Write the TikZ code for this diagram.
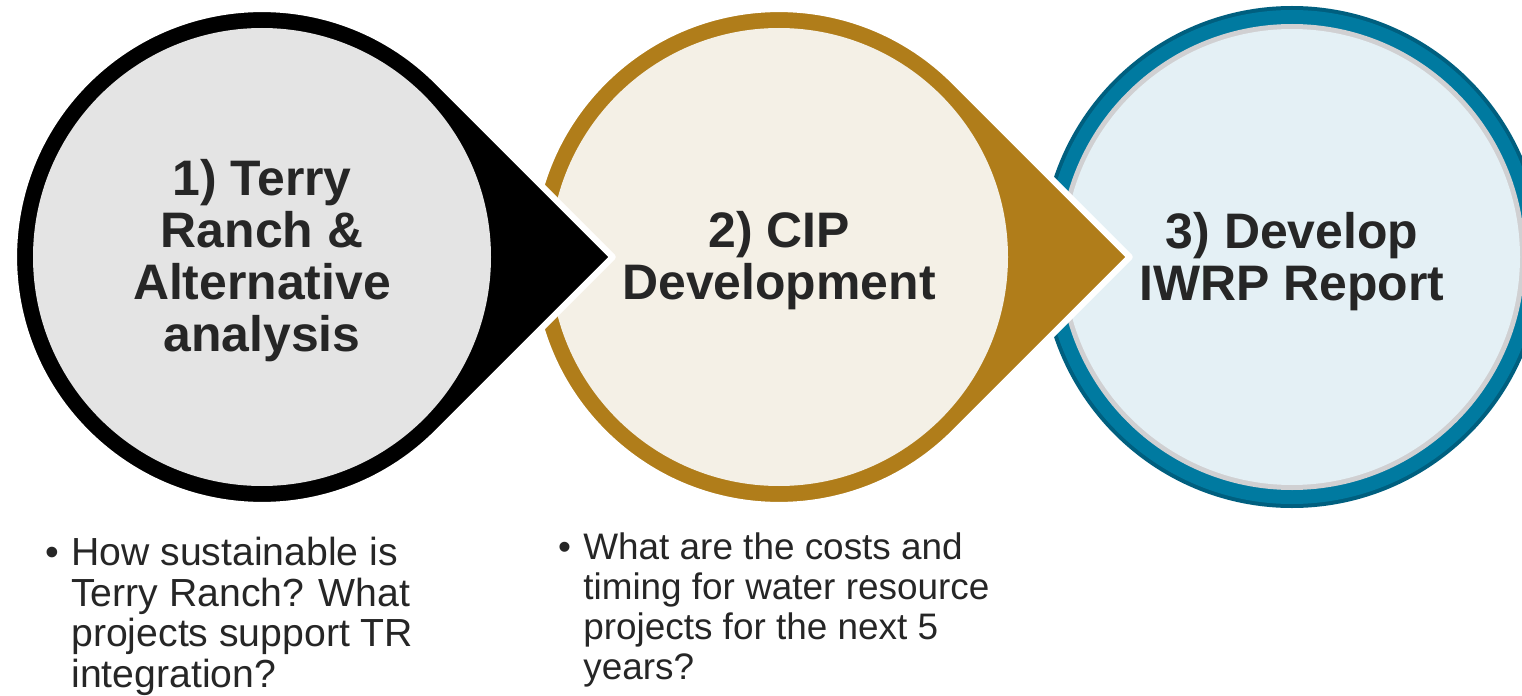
\documentclass[tikz,border=0pt]{standalone}
\usepackage{fontspec}
\setmainfont{Liberation Sans}
\definecolor{ink}{HTML}{262626}
\definecolor{terrygray}{HTML}{E4E4E4}
\definecolor{cipgold}{HTML}{B07D1A}
\definecolor{cipcream}{HTML}{F4F0E6}
\definecolor{iwrpdark}{HTML}{005F7F}
\definecolor{iwrpblue}{HTML}{007AA0}
\definecolor{iwrpring}{HTML}{D0D0D2}
\definecolor{iwrppale}{HTML}{E4F0F5}
\begin{document}
\begin{tikzpicture}[x=0.02cm,y=-0.02cm,line join=round,
	title/.style={align=center,anchor=base,text=ink,inner sep=0pt,font=\bfseries\fontsize{28.4}{29.5}\selectfont},
	question/.style={align=left,anchor=base west,text=ink,inner sep=0pt}]
		\clip (0,0) rectangle (1522,696);
		\coordinate (c3) at (1292,257);
		\fill[iwrpdark] (c3) circle[radius=251];
		\fill[iwrpblue] (c3) circle[radius=247];
		\fill[iwrpring] (c3) circle[radius=233];
		\fill[iwrppale] (c3) circle[radius=228];
		\foreach \cx/\ring/\inner in {779/cipgold/cipcream,262/black/terrygray}{
			\filldraw[fill=\ring,draw=white,line width=3.5pt] (\cx,257) ++(45:248) arc[start angle=45,end angle=315,radius=248] -- (\cx+350.7,257) -- cycle;
			\fill[\inner] (\cx,257) circle[radius=229];
		}
		\node[title] (t1) at (262,351) {1) Terry\\Ranch \&\\Alternative\\analysis};
		\node[title] (t2) at (779,299) {2) CIP\\Development};
		\node[title] (t3) at (1292,300) {3) Develop\\IWRP Report};
		\node[question,font=\fontsize{22.3}{23}\selectfont] (q1) at (71,687) {\llap{•\hspace{7pt}}How sustainable is\\Terry Ranch? What\\projects support TR\\integration?};
		\node[question,font=\fontsize{21}{22.7}\selectfont] (q2) at (583,679) {\llap{•\hspace{7pt}}What are the costs and\\timing for water resource\\projects for the next 5\\years?};
\end{tikzpicture}
\end{document}
